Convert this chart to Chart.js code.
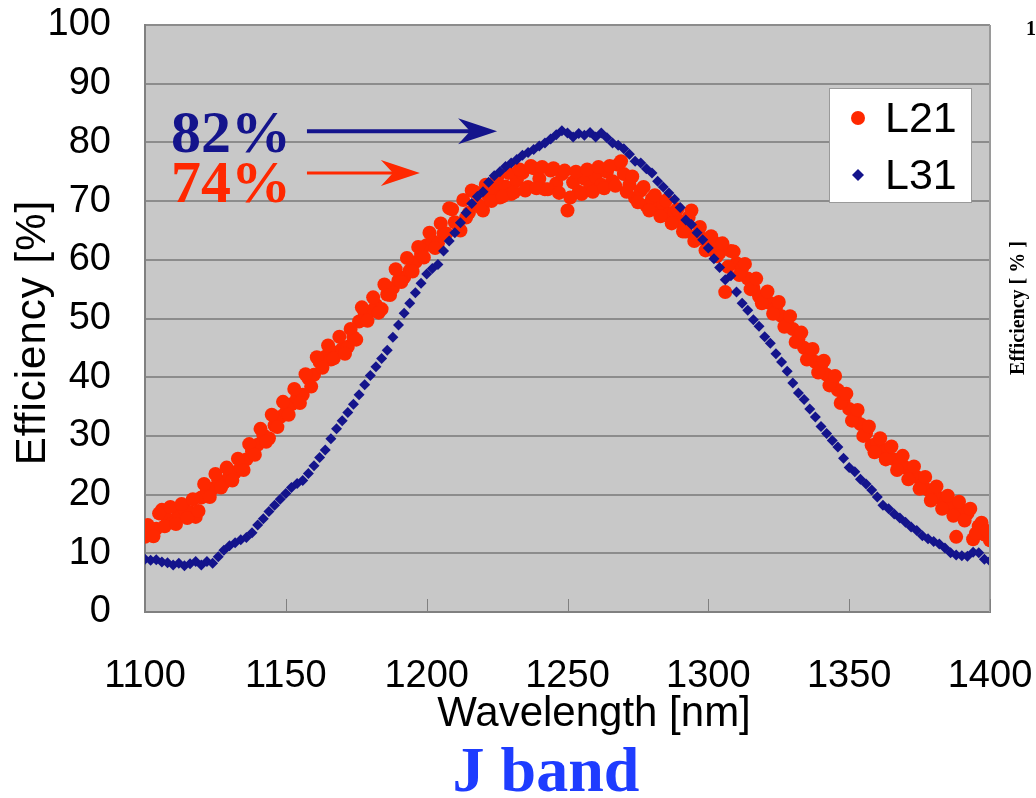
<!DOCTYPE html>
<html>
<head>
<meta charset="utf-8">
<title>J band efficiency</title>
<script src="https://cdn.jsdelivr.net/npm/chart.js"></script>
<style>
  html, body { margin: 0; padding: 0; background: #ffffff; }
  #wrap { width: 1036px; height: 798px; }
</style>
</head>
<body>
<div id="wrap"><canvas id="chart" width="1036" height="798"></canvas></div>
<script>
// wavelength [nm], even steps
const wavelengths = [
  1100, 1102, 1104, 1106, 1108, 1110, 1112, 1114, 1116, 1118,
  1120, 1122, 1124, 1126, 1128, 1130, 1132, 1134, 1136, 1138,
  1140, 1142, 1144, 1146, 1148, 1150, 1152, 1154, 1156, 1158,
  1160, 1162, 1164, 1166, 1168, 1170, 1172, 1174, 1176, 1178,
  1180, 1182, 1184, 1186, 1188, 1190, 1192, 1194, 1196, 1198,
  1200, 1202, 1204, 1206, 1208, 1210, 1212, 1214, 1216, 1218,
  1220, 1222, 1224, 1226, 1228, 1230, 1232, 1234, 1236, 1238,
  1240, 1242, 1244, 1246, 1248, 1250, 1252, 1254, 1256, 1258,
  1260, 1262, 1264, 1266, 1268, 1270, 1272, 1274, 1276, 1278,
  1280, 1282, 1284, 1286, 1288, 1290, 1292, 1294, 1296, 1298,
  1300, 1302, 1304, 1306, 1308, 1310, 1312, 1314, 1316, 1318,
  1320, 1322, 1324, 1326, 1328, 1330, 1332, 1334, 1336, 1338,
  1340, 1342, 1344, 1346, 1348, 1350, 1352, 1354, 1356, 1358,
  1360, 1362, 1364, 1366, 1368, 1370, 1372, 1374, 1376, 1378,
  1380, 1382, 1384, 1386, 1388, 1390, 1392, 1394, 1396, 1398,
  1400
];

// wavelength [nm], odd steps (extra L21 readings)
const wavelengthsOdd = [
  1101, 1103, 1105, 1107, 1109, 1111, 1113, 1115, 1117, 1119,
  1121, 1123, 1125, 1127, 1129, 1131, 1133, 1135, 1137, 1139,
  1141, 1143, 1145, 1147, 1149, 1151, 1153, 1155, 1157, 1159,
  1161, 1163, 1165, 1167, 1169, 1171, 1173, 1175, 1177, 1179,
  1181, 1183, 1185, 1187, 1189, 1191, 1193, 1195, 1197, 1199,
  1201, 1203, 1205, 1207, 1209, 1211, 1213, 1215, 1217, 1219,
  1221, 1223, 1225, 1227, 1229, 1231, 1233, 1235, 1237, 1239,
  1241, 1243, 1245, 1247, 1249, 1251, 1253, 1255, 1257, 1259,
  1261, 1263, 1265, 1267, 1269, 1271, 1273, 1275, 1277, 1279,
  1281, 1283, 1285, 1287, 1289, 1291, 1293, 1295, 1297, 1299,
  1301, 1303, 1305, 1307, 1309, 1311, 1313, 1315, 1317, 1319,
  1321, 1323, 1325, 1327, 1329, 1331, 1333, 1335, 1337, 1339,
  1341, 1343, 1345, 1347, 1349, 1351, 1353, 1355, 1357, 1359,
  1361, 1363, 1365, 1367, 1369, 1371, 1373, 1375, 1377, 1379,
  1381, 1383, 1385, 1387, 1389, 1391, 1393, 1395, 1397, 1399
];

// efficiency [%], L21 at even wavelengths
const l21 = [
  12.8, 13.6, 14.2, 17.4, 15.8, 15.2, 16.8, 17.5, 17.0, 16.2,
  19.5, 20.6, 21.0, 22.4, 22.0, 23.2, 23.8, 24.6, 26.0, 27.4,
  28.5, 30.1, 29.6, 31.8, 33.2, 34.0, 35.4, 36.5, 37.0, 39.8,
  40.4, 42.6, 43.5, 43.0, 44.2, 44.8, 45.2, 46.8, 49.5, 50.8,
  51.2, 52.3, 51.6, 54.1, 55.2, 56.5, 57.0, 58.2, 59.6, 61.0,
  62.5, 63.2, 62.8, 64.5, 68.8, 66.4, 65.0, 67.2, 71.8, 69.5,
  68.4, 70.8, 72.0, 70.6, 72.5, 71.2, 73.5, 74.8, 72.4, 75.6,
  73.8, 72.0, 75.2, 73.0, 74.6, 68.4, 73.2, 71.6, 73.8, 72.4,
  74.2, 72.8, 75.0, 73.4, 76.2, 74.6, 72.8, 70.5, 71.8, 69.2,
  70.4, 68.6, 69.4, 67.8, 68.2, 66.5, 64.8, 68.4, 64.2, 63.6,
  62.4, 63.0, 61.2, 54.5, 61.5, 59.4, 58.6, 56.8, 55.2, 53.8,
  53.4, 52.6, 51.8, 50.4, 49.0, 48.2, 46.5, 45.0, 43.4, 42.6,
  41.8, 40.4, 39.2, 37.8, 36.0, 34.6, 33.2, 32.0, 30.5, 28.4,
  28.8, 27.2, 27.8, 26.0, 25.2, 24.6, 23.4, 23.0, 21.6, 20.8,
  20.2, 19.4, 18.6, 18.0, 12.8, 17.2, 16.8, 12.4, 14.6, 13.2,
  12.2
];

// efficiency [%], L21 at odd wavelengths
const l21Odd = [
  14.8, 12.9, 16.8, 14.6, 17.9, 15.0, 18.4, 16.0, 19.2, 17.2,
  21.8, 19.6, 23.5, 21.2, 24.6, 22.4, 26.1, 24.2, 28.6, 26.8,
  31.2, 29.0, 33.6, 31.5, 35.8, 33.6, 38.0, 35.6, 40.5, 38.4,
  43.4, 41.6, 45.4, 43.2, 46.9, 44.0, 48.2, 46.4, 51.9, 49.6,
  53.6, 51.0, 55.8, 54.0, 58.4, 56.2, 60.3, 58.0, 62.2, 60.4,
  64.6, 62.0, 66.2, 64.5, 68.6, 66.0, 70.2, 68.0, 71.6, 69.0,
  72.8, 70.0, 73.9, 70.8, 74.8, 71.5, 75.4, 71.8, 76.0, 72.2,
  75.8, 72.0, 75.6, 71.4, 75.2, 70.6, 75.0, 71.2, 75.4, 71.6,
  75.8, 72.2, 76.0, 72.6, 76.8, 71.6, 74.2, 69.8, 72.4, 68.4,
  71.0, 67.4, 70.1, 66.2, 68.6, 64.8, 67.2, 63.2, 65.6, 61.6,
  64.0, 60.6, 62.8, 58.8, 61.4, 57.4, 59.3, 55.0, 56.8, 52.6,
  54.6, 50.8, 52.8, 48.6, 50.4, 46.0, 47.6, 43.0, 44.8, 40.8,
  42.8, 38.6, 40.2, 35.6, 37.2, 32.6, 34.4, 30.0, 31.6, 27.2,
  29.6, 26.0, 28.2, 24.2, 26.6, 22.6, 24.8, 21.0, 23.0, 19.0,
  21.4, 17.6, 19.8, 16.4, 18.8, 15.6, 17.6, 13.4, 15.2, 13.8
];

// efficiency [%], L31 at even wavelengths
const l31 = [
  9.0, 8.8, 8.9, 8.5, 8.4, 8.0, 8.3, 7.9, 8.2, 8.6,
  8.0, 8.6, 8.3, 9.4, 10.5, 11.3, 11.8, 12.3, 12.7, 13.5,
  14.8, 15.9, 17.1, 18.2, 19.2, 20.2, 21.2, 21.9, 22.4, 23.6,
  24.9, 26.3, 27.6, 29.5, 31.2, 32.6, 34.0, 35.4, 37.0, 38.7,
  40.3, 41.8, 43.2, 44.6, 46.8, 48.9, 50.9, 52.6, 54.4, 56.0,
  57.6, 58.5, 59.2, 61.5, 63.2, 64.6, 66.3, 68.0, 69.6, 70.8,
  71.6, 73.2, 74.3, 75.0, 75.9, 76.5, 77.1, 77.8, 78.3, 78.8,
  79.4, 79.9, 80.6, 81.3, 82.0, 81.6, 80.9, 81.5, 81.2, 81.7,
  80.9, 81.6, 80.8, 79.9, 79.5, 78.9, 78.0, 76.8, 76.5, 75.5,
  74.8, 73.4, 72.4, 71.4, 70.3, 68.9, 66.8, 66.0, 64.6, 63.4,
  62.0, 60.2, 58.7, 56.6, 57.3, 54.5, 52.6, 51.4, 49.8, 48.7,
  46.9, 45.8, 44.0, 42.6, 41.0, 39.0, 37.3, 36.2, 34.6, 33.2,
  31.6, 30.4, 29.2, 28.1, 26.2, 24.6, 23.9, 22.6, 21.8, 20.8,
  19.6, 18.2, 17.6, 16.7, 16.0, 15.3, 14.5, 13.9, 13.0, 12.5,
  12.0, 11.6, 10.9, 10.1, 9.7, 9.6, 9.5, 10.2, 10.1, 9.0,
  8.7
];

const seriesNames = ['L21', 'L31'];
const xTicks = [1100, 1150, 1200, 1250, 1300, 1350, 1400];
const yTicks = [0, 10, 20, 30, 40, 50, 60, 70, 80, 90, 100];

// peak annotations: label, arrow level [%], arrow start/end [nm]
const peakLabels = ['82%', '74%'];
const peakLevels = [81.9, 74.8];
const arrowFrom = [1157.5, 1157.5];
const arrowTo = [1225, 1197.6];

const RED = 'rgb(255, 40, 0)';
const NAVY = 'rgb(20, 20, 140)';
const SANS = '"Liberation Sans", Arial, sans-serif';
const SERIF = '"Liberation Serif", "Times New Roman", serif';

const toPoints = (xs, vals) => vals.map((v, i) => ({ x: xs[i], y: v }));

const decorPlugin = {
  id: 'decor',
  beforeDraw(chart) {
    const { ctx, chartArea: a } = chart;
    ctx.save();
    ctx.fillStyle = '#c8c8c8';
    ctx.fillRect(a.left, a.top, a.right - a.left, a.bottom - a.top);
    ctx.restore();
  },
  afterDatasetsDraw(chart) {
    const { ctx, chartArea: a, scales } = chart;
    const xs = scales.x, ys = scales.y;
    ctx.save();

    // right border and inner x ticks
    ctx.strokeStyle = '#9a9a9a';
    ctx.lineWidth = 2;
    ctx.beginPath();
    ctx.moveTo(a.right, a.top);
    ctx.lineTo(a.right, a.bottom);
    ctx.stroke();
    ctx.strokeStyle = '#808080';
    ctx.lineWidth = 1;
    xTicks.forEach(t => {
      const px = Math.round(xs.getPixelForValue(t)) + 0.5;
      ctx.beginPath();
      ctx.moveTo(px, a.bottom);
      ctx.lineTo(px, a.bottom - 13);
      ctx.stroke();
    });

    // arrows + percent labels
    const colors = [NAVY, RED];
    const widths = [4, 3];
    peakLabels.forEach((label, i) => {
      const y = ys.getPixelForValue(peakLevels[i]);
      const x1 = xs.getPixelForValue(arrowFrom[i]);
      const x2 = xs.getPixelForValue(arrowTo[i]);
      ctx.strokeStyle = colors[i];
      ctx.fillStyle = colors[i];
      ctx.lineWidth = widths[i];
      ctx.beginPath();
      ctx.moveTo(x1, y);
      ctx.lineTo(x2 - 20, y);
      ctx.stroke();
      ctx.beginPath();
      ctx.moveTo(x2, y);
      ctx.lineTo(x2 - 39, y - 13);
      ctx.lineTo(x2 - 27, y);
      ctx.lineTo(x2 - 39, y + 13);
      ctx.closePath();
      ctx.fill();

      ctx.font = 'bold 60px ' + SERIF;
      ctx.textAlign = 'left';
      ctx.textBaseline = 'alphabetic';
      ctx.fillText(label, a.left + 26, y + (i === 0 ? 21 : 29));
    });

    // legend box
    const lx = a.right - 161, ly = a.top + 63;
    ctx.fillStyle = '#ffffff';
    ctx.fillRect(lx, ly, 142, 114);
    ctx.strokeStyle = '#9a9a9a';
    ctx.lineWidth = 1;
    ctx.strokeRect(lx + 0.5, ly + 0.5, 142, 114);
    ctx.fillStyle = RED;
    ctx.beginPath();
    ctx.arc(lx + 29, ly + 30, 7, 0, Math.PI * 2);
    ctx.fill();
    ctx.fillStyle = NAVY;
    ctx.beginPath();
    ctx.moveTo(lx + 29, ly + 81);
    ctx.lineTo(lx + 35, ly + 87);
    ctx.lineTo(lx + 29, ly + 93);
    ctx.lineTo(lx + 23, ly + 87);
    ctx.closePath();
    ctx.fill();
    ctx.fillStyle = '#000000';
    ctx.font = '43px ' + SANS;
    ctx.textAlign = 'left';
    ctx.textBaseline = 'middle';
    ctx.fillText(seriesNames[0], lx + 56, ly + 32);
    ctx.fillText(seriesNames[1], lx + 56, ly + 89);
    ctx.restore();
  },
  afterDraw(chart) {
    const { ctx, chartArea: a } = chart;
    ctx.save();
    ctx.fillStyle = '#000000';
    ctx.font = '42px ' + SANS;
    ctx.textAlign = 'center';
    ctx.textBaseline = 'middle';
    ctx.fillText('Wavelength [nm]', 594, 714);

    ctx.save();
    ctx.translate(33, (a.top + a.bottom) / 2 + 14);
    ctx.rotate(-Math.PI / 2);
    ctx.letterSpacing = '1px';
    ctx.fillText('Efficiency [%]', 0, 0);
    ctx.restore();

    ctx.fillStyle = '#1e3cff';
    ctx.font = 'bold 64px ' + SERIF;
    ctx.textBaseline = 'alphabetic';
    ctx.fillText('J band', 546, 791);

    // edge of the neighbouring panel
    ctx.fillStyle = '#000000';
    ctx.font = 'bold 20px ' + SERIF;
    ctx.textAlign = 'left';
    ctx.fillText('1', 1026, 35);
    ctx.save();
    ctx.translate(1024, 308);
    ctx.rotate(-Math.PI / 2);
    ctx.textAlign = 'center';
    ctx.fillText('Efficiency [ % ]', 0, 0);
    ctx.restore();
    ctx.restore();
  }
};

new Chart(document.getElementById('chart'), {
  type: 'scatter',
  data: {
    datasets: [
      {
        label: seriesNames[0],
        data: toPoints(wavelengths, l21).concat(toPoints(wavelengthsOdd, l21Odd)),
        order: 1,
        pointStyle: 'circle',
        pointRadius: 7,
        pointBorderWidth: 0,
        backgroundColor: RED,
        borderColor: RED
      },
      {
        label: seriesNames[1],
        data: toPoints(wavelengths, l31),
        order: 0,
        pointStyle: 'rectRot',
        pointRadius: 5.5,
        pointBorderWidth: 0,
        backgroundColor: NAVY,
        borderColor: NAVY
      }
    ]
  },
  options: {
    responsive: false,
    devicePixelRatio: 1,
    animation: false,
    layout: { padding: { left: 0, right: 46, top: 25, bottom: 0 } },
    plugins: {
      legend: { display: false },
      tooltip: { enabled: false }
    },
    scales: {
      x: {
        type: 'linear',
        min: 1100,
        max: 1400,
        afterFit: s => {
          s.height = 186;
          s.paddingLeft = 0;
          s.paddingRight = 0;
        },
        afterBuildTicks: s => { s.ticks = xTicks.map(v => ({ value: v })); },
        grid: { display: false, drawTicks: false },
        border: { display: true, color: '#808080', width: 2 },
        ticks: {
          padding: 42,
          color: '#000000',
          maxRotation: 0,
          callback: v => String(v),
          font: { family: SANS, size: 38 }
        }
      },
      y: {
        min: 0,
        max: 100,
        afterFit: s => {
          s.width = 145;
          s.paddingTop = 0;
          s.paddingBottom = 0;
        },
        afterBuildTicks: s => { s.ticks = yTicks.map(v => ({ value: v })); },
        grid: { color: '#8c8c8c', lineWidth: 2, drawTicks: false },
        border: { display: true, color: '#808080', width: 2 },
        ticks: {
          padding: 34,
          color: '#000000',
          callback: v => String(v),
          font: { family: SANS, size: 38 }
        }
      }
    }
  },
  plugins: [decorPlugin]
});
</script>
</body>
</html>
